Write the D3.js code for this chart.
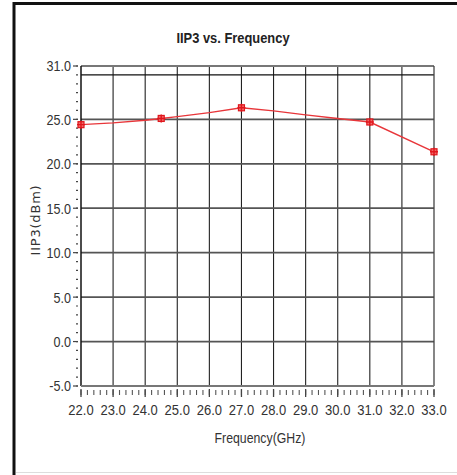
<!DOCTYPE html>
<html>
<head>
<meta charset="utf-8">
<script src="https://cdn.jsdelivr.net/npm/d3@7/dist/d3.min.js"></script>
<style>
  html, body { margin: 0; padding: 0; background: #fff; }
  svg { display: block; }
  .cond { font-family: "Liberation Sans", Arial, sans-serif; }
</style>
</head>
<body>
<svg id="chart" width="457" height="475"></svg>
<script>
// IIP3 measured across the band
const freqGHz = [22, 23, 24, 24.5, 25, 26, 27, 28, 29, 30, 31, 33];
const iip3dBm = [24.4, 24.6, 24.9, 25.1, 25.3, 25.75, 26.3, 25.95, 25.5, 25.1, 24.7, 21.35];
// sample points that carry a marker
const markerFreqs = [22, 24.5, 27, 31, 33];

const xTickValues = [22, 23, 24, 25, 26, 27, 28, 29, 30, 31, 32, 33];
const yTickLabels = [-5, 0, 5, 10, 15, 20, 25, 31];
const yGridValues = [0, 5, 10, 15, 20, 25, 30];

const fmt = d => d3.format(".1f")(d).replace("\u2212", "-");
// horizontally condensed text, placed at (px, py)
const condensed = (px, py, k) => `translate(${px},${py}) scale(${k},1)`;

const svg = d3.select("#chart");

// outer frame
svg.append("rect").attr("width", 457).attr("height", 475).attr("fill", "#fff");
svg.append("line").attr("x1", 14).attr("x2", 14).attr("y1", 2).attr("y2", 475)
  .attr("stroke", "#111").attr("stroke-width", 3);
svg.append("line").attr("x1", 13).attr("x2", 457).attr("y1", 3.5).attr("y2", 3.5)
  .attr("stroke", "#111").attr("stroke-width", 3);
svg.append("line").attr("x1", 16).attr("x2", 457).attr("y1", 472.5).attr("y2", 472.5)
  .attr("stroke", "#ddd").attr("stroke-width", 1);

const x = d3.scaleLinear().domain([22, 33]).range([81, 434]);
const y = d3.scaleLinear().domain([-5, 31]).range([386, 66]);

const [x0, x1] = x.range();
const [yb, yt] = y.range();

// grid
const grid = svg.append("g");
grid.selectAll("line.v").data(xTickValues.slice(1, -1)).join("line")
  .attr("x1", d => x(d)).attr("x2", d => x(d)).attr("y1", yt).attr("y2", yb)
  .attr("stroke", "#222").attr("stroke-width", 1.1);
grid.selectAll("line.h").data(yGridValues).join("line")
  .attr("x1", x0).attr("x2", x1).attr("y1", d => y(d)).attr("y2", d => y(d))
  .attr("stroke", d => d === 30 ? "#111" : "#555")
  .attr("stroke-width", d => d === 30 ? 1.1 : 1.7);

// plot border
svg.append("line").attr("x1", x0).attr("x2", x1).attr("y1", yt).attr("y2", yt)
  .attr("stroke", "#777").attr("stroke-width", 2);
svg.append("line").attr("x1", x1).attr("x2", x1).attr("y1", yt).attr("y2", yb)
  .attr("stroke", "#444").attr("stroke-width", 1.3);

// y axis: labels with major ticks, minor ticks every 1 dB
const yMinor = d3.range(-5, 31.001, 1);
const yAxis = svg.append("g").attr("transform", `translate(${x0},0)`);
yAxis.append("line").attr("y1", yt).attr("y2", yb).attr("stroke", "#111").attr("stroke-width", 1.5);
yAxis.selectAll("line.minor").data(yMinor).join("line")
  .attr("x1", -5).attr("x2", -3).attr("y1", d => y(d)).attr("y2", d => y(d))
  .attr("stroke", "#444").attr("stroke-width", 1.2);
yAxis.selectAll("line.major").data(yTickLabels).join("line")
  .attr("x1", -8).attr("x2", -3).attr("y1", d => y(d)).attr("y2", d => y(d))
  .attr("stroke", "#444").attr("stroke-width", 1.2);
yAxis.selectAll("text").data(yTickLabels).join("text")
  .attr("class", "cond")
  .attr("transform", d => condensed(-10, y(d), 0.84)).attr("dy", "0.36em")
  .attr("text-anchor", "end").attr("font-size", 15).attr("fill", "#333")
  .text(fmt);

// x axis: labels, major ticks and minor ticks every 0.2 GHz
const xMinor = d3.range(22, 33.001, 0.2);
const xAxis = svg.append("g").attr("transform", `translate(0,${yb})`);
xAxis.append("line").attr("x1", x0).attr("x2", x1).attr("stroke", "#777").attr("stroke-width", 2);
xAxis.selectAll("line.minor").data(xMinor).join("line")
  .attr("x1", d => x(d)).attr("x2", d => x(d)).attr("y1", 4).attr("y2", 9)
  .attr("stroke", "#555").attr("stroke-width", 1.1);
xAxis.selectAll("line.major").data(xTickValues).join("line")
  .attr("x1", d => x(d)).attr("x2", d => x(d)).attr("y1", 3).attr("y2", 11)
  .attr("stroke", "#444").attr("stroke-width", 1.3);
xAxis.selectAll("text").data(xTickValues).join("text")
  .attr("class", "cond")
  .attr("transform", d => condensed(x(d), 29, 0.84))
  .attr("text-anchor", "middle").attr("font-size", 15.5).attr("fill", "#333")
  .text(fmt);

// series line
const line = d3.line().x((d, i) => x(freqGHz[i])).y(d => y(d));
svg.append("path").datum(iip3dBm)
  .attr("d", line).attr("fill", "none")
  .attr("stroke", "#e8363a").attr("stroke-width", 1.4);

// markers
const markerData = freqGHz.map((f, i) => ({ f, v: iip3dBm[i] }))
  .filter(d => markerFreqs.includes(d.f));
const mk = svg.append("g").selectAll("g").data(markerData).join("g")
  .attr("transform", d => `translate(${x(d.f)},${y(d.v)})`);
mk.append("rect").attr("x", -3).attr("y", -3).attr("width", 6).attr("height", 6)
  .attr("fill", "#f06a6a").attr("stroke", "#e0161c").attr("stroke-width", 1.2);
mk.append("path").attr("d", "M-4,0H4M0,-4V4")
  .attr("stroke", "#e0161c").attr("stroke-width", 1.4);

// titles
svg.append("text").attr("class", "cond")
  .attr("transform", condensed(233, 43, 0.86)).attr("text-anchor", "middle")
  .attr("font-size", 15).attr("font-weight", "bold").attr("fill", "#222")
  .text("IIP3 vs. Frequency");

svg.append("text").attr("class", "cond")
  .attr("transform", condensed(260, 443, 0.82)).attr("text-anchor", "middle")
  .attr("font-size", 15).attr("fill", "#333")
  .text("Frequency(GHz)");

svg.append("text")
  .attr("transform", "translate(40,220) rotate(-90)")
  .attr("text-anchor", "middle")
  .attr("font-family", "DejaVu Sans, sans-serif")
  .attr("font-size", 13).attr("letter-spacing", 0.8).attr("fill", "#333")
  .text("IIP3(dBm)");
</script>
</body>
</html>
